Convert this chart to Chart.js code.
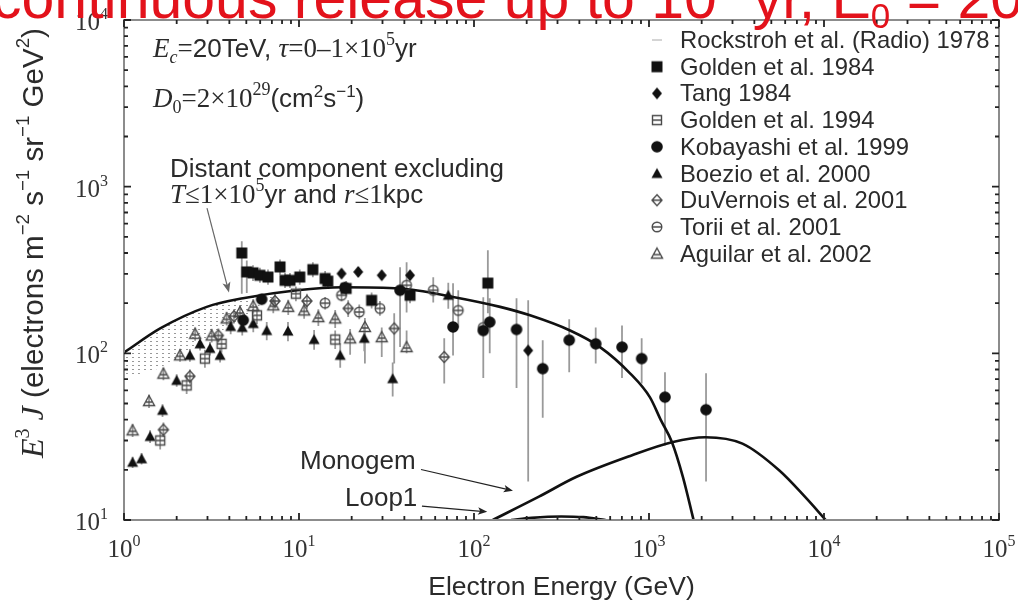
<!DOCTYPE html>
<html>
<head>
<meta charset="utf-8">
<script src="https://cdn.jsdelivr.net/npm/chart.js@4.4.1/dist/chart.umd.min.js"></script>
<style>
  html, body { margin: 0; padding: 0; background: #fff; overflow: hidden; }
  canvas { display: block; }
</style>
</head>
<body>
<canvas id="c" width="1018" height="601"></canvas>
<script>
// ---- Measured electron spectra: energy (GeV), E^3 J, error bar bounds ----
const golden84E  = [4.71, 5.03, 5.46, 5.98, 6.65, 7.79, 8.32, 8.88, 10.1, 12.0, 14.1, 14.6, 18.6, 26.0, 43.1, 120];
const golden84F  = [400, 308, 304, 294, 287, 330, 274, 274, 287, 318, 281, 271, 245, 208, 223, 264];
const golden84Lo = [228, 230, 272, 265, 258, 296, 247, 247, 258, 286, 252, 243, 220, 186, 200, 174];
const golden84Hi = [470, 360, 338, 326, 318, 366, 303, 303, 318, 352, 312, 300, 272, 232, 248, 416];

const tang84E  = [17.5, 21.8, 29.7, 43.1, 204];
const tang84F  = [301, 308, 294, 294, 104];
const tang84Lo = [282, 289, 276, 276, 17];
const tang84Hi = [322, 329, 314, 314, 208];

const golden94E  = [1.61, 2.28, 2.90, 3.61, 5.75, 9.6, 16.1];
const golden94F  = [30.0, 64.2, 93, 114, 169, 228, 121];
const golden94Lo = [26.5, 57, 82, 101, 150, 205, 106];
const golden94Hi = [34, 72, 105, 128, 190, 252, 137];

const kobayashiE  = [4.8, 6.12, 18.3, 37.8, 75.9, 113, 123, 175, 247, 350, 496, 701, 908, 1234, 2118];
const kobayashiF  = [158, 211, 248, 239, 144, 137, 154, 139, 80.9, 120, 114, 109, 93, 54.6, 45.9];
const kobayashiLo = [146, 196, 230, 109, 97, 72, 100, 62, 41, 77, 87, 71, 66, 28, 17];
const kobayashiHi = [171, 228, 268, 328, 263, 214, 214, 214, 120, 160, 143, 147, 123, 77, 76];

const boezioE  = [1.12, 1.26, 1.41, 1.66, 2.0, 2.38, 2.72, 3.10, 3.54, 4.07, 4.74, 5.48, 6.54, 8.65, 12.2, 17.2, 23.6, 34.3, 71.3];
const boezioF  = [22.2, 23.3, 31.7, 45.5, 68.8, 97.3, 114, 107, 97.3, 145, 143, 151, 137, 136, 121, 97.3, 123, 70.5, 223];
const boezioLo = [20.5, 21.5, 29, 41.5, 63, 89, 104, 97, 88, 130, 128, 134, 120, 118, 105, 82, 103, 55, 185];
const boezioHi = [24, 25.2, 34.5, 49.5, 75, 106, 124, 117, 107, 160, 158, 168, 154, 154, 138, 115, 146, 88, 265];

const duvernoisE  = [1.68, 2.38, 3.46, 4.25, 7.29, 11.1, 19.1, 35.0, 67.6];
const duvernoisF  = [34.8, 72.8, 128, 167, 206, 206, 186, 141, 95];
const duvernoisLo = [31.5, 66, 116, 151, 186, 185, 165, 87, 66];
const duvernoisHi = [38.5, 80, 141, 184, 228, 228, 208, 174, 123];

const toriiE  = [14.1, 17.5, 22.1, 29.0, 41.2, 58.5, 81.3, 113];
const toriiF  = [200, 223, 177, 186, 256, 239, 181, 143];
const toriiLo = [183, 205, 160, 168, 176, 202, 143, 71];
const toriiHi = [218, 243, 196, 206, 352, 286, 239, 217];

const aguilarE  = [1.12, 1.39, 1.68, 2.09, 2.55, 3.17, 3.86, 4.6, 5.48, 7.13, 8.68, 10.7, 12.9, 16.1, 19.6, 23.8, 29.7, 41.2];
const aguilarF  = [34.5, 51.7, 75.5, 97.3, 131, 128, 162, 177, 192, 194, 190, 181, 165, 162, 123, 144, 125, 109];
const aguilarLo = [31.5, 47, 69, 89, 119, 116, 147, 160, 173, 174, 170, 161, 146, 142, 98, 87, 95, 100];
const aguilarHi = [37.5, 56.5, 82, 106, 143, 140, 177, 194, 211, 214, 210, 201, 184, 182, 140, 163, 143, 137];

// Radio-derived band (Rockstroh 1978), upper and lower edge
const radioE  = [1, 1.28, 1.61, 2.01, 2.48, 3.1, 3.88, 4.79, 6.0, 7.6];
const radioHi = [101, 120, 141, 160, 177, 193, 205, 214, 222, 229];
const radioLo = [72, 76, 82, 95, 109, 125, 143, 164, 195, 226];

// Model curves
const distantE = [1, 1.61, 2.97, 4.79, 9.74, 17.8, 37.8, 75.9, 141, 209, 354, 525, 779, 1013, 1171, 1353, 1563, 1798];
const distantF = [101, 141, 190, 214, 239, 249, 245, 218, 190, 169, 137, 109, 75.9, 54.4, 39.6, 29.3, 18.1, 10.0];
const monogemE = [128, 235, 383, 794, 1353, 2103, 3420, 5560, 7820, 10230];
const monogemF = [10, 13.8, 18.1, 24.4, 29.3, 31.4, 28.7, 19.8, 13.7, 10];
const loop1E = [163, 213, 315, 422, 565];
const loop1F = [10, 10.3, 10.5, 10.4, 10];

// Axis decades
const xDecades = [0, 1, 2, 3, 4, 5];
const yDecades = [1, 2, 3, 4];

const legendNames = [
  'Rockstroh et al. (Radio) 1978', 'Golden et al. 1984', 'Tang 1984', 'Golden et al. 1994',
  'Kobayashi et al. 1999', 'Boezio et al. 2000', 'DuVernois et al. 2001', 'Torii et al. 2001', 'Aguilar et al. 2002'
];

const SANS = '"Liberation Sans", Arial, Helvetica, sans-serif';
const SERIF = '"Liberation Serif", "Times New Roman", serif';
const INK = '#2b2b2b';

// ---- Marker sprites ----
function marker(kind) {
  const c = document.createElement('canvas');
  c.width = 16; c.height = 16;
  const g = c.getContext('2d');
  const m = 8;
  g.fillStyle = '#111';
  g.strokeStyle = '#4a4a4a';
  g.lineWidth = 1.4;
  g.beginPath();
  switch (kind) {
    case 'square':
      g.rect(m - 5.5, m - 5.5, 11, 11); g.fill(); break;
    case 'diamond':
      g.moveTo(m, m - 6); g.lineTo(m + 5, m); g.lineTo(m, m + 6); g.lineTo(m - 5, m); g.closePath(); g.fill(); break;
    case 'circle':
      g.arc(m, m, 5.8, 0, Math.PI * 2); g.fill(); break;
    case 'triangle':
      g.moveTo(m, m - 5.5); g.lineTo(m + 5.5, m + 4.5); g.lineTo(m - 5.5, m + 4.5); g.closePath(); g.fill(); break;
    case 'squareOpen':
      g.rect(m - 4.5, m - 4.5, 9, 9); g.moveTo(m - 4.5, m); g.lineTo(m + 4.5, m); g.stroke(); break;
    case 'diamondOpen':
      g.moveTo(m, m - 5.5); g.lineTo(m + 5, m); g.lineTo(m, m + 5.5); g.lineTo(m - 5, m); g.closePath();
      g.moveTo(m - 5, m); g.lineTo(m + 5, m); g.stroke(); break;
    case 'circleOpen':
      g.arc(m, m, 4.8, 0, Math.PI * 2); g.moveTo(m - 4.8, m); g.lineTo(m + 4.8, m); g.stroke(); break;
    case 'triangleOpen':
      g.moveTo(m, m - 5.5); g.lineTo(m + 5.5, m + 4.5); g.lineTo(m - 5.5, m + 4.5); g.closePath();
      g.moveTo(m - 3, m + 1); g.lineTo(m + 3, m + 1); g.stroke(); break;
    case 'dash':
      g.strokeStyle = '#aaa'; g.lineWidth = 1; g.moveTo(m - 5, m); g.lineTo(m + 5, m); g.stroke(); break;
  }
  return c;
}

// Dotted fill for the radio band
function dotPattern() {
  const c = document.createElement('canvas');
  c.width = 6; c.height = 4;
  const g = c.getContext('2d');
  g.fillStyle = 'rgba(110,110,110,0.7)';
  g.fillRect(0, 1, 2, 1);
  const ctx = document.getElementById('c').getContext('2d');
  return ctx.createPattern(c, 'repeat');
}

const pts = (E, F) => E.map((e, i) => ({ x: e, y: F[i] }));

const measured = [
  { label: legendNames[1], E: golden84E, F: golden84F, lo: golden84Lo, hi: golden84Hi, kind: 'square' },
  { label: legendNames[2], E: tang84E, F: tang84F, lo: tang84Lo, hi: tang84Hi, kind: 'diamond' },
  { label: legendNames[3], E: golden94E, F: golden94F, lo: golden94Lo, hi: golden94Hi, kind: 'squareOpen' },
  { label: legendNames[4], E: kobayashiE, F: kobayashiF, lo: kobayashiLo, hi: kobayashiHi, kind: 'circle' },
  { label: legendNames[5], E: boezioE, F: boezioF, lo: boezioLo, hi: boezioHi, kind: 'triangle' },
  { label: legendNames[6], E: duvernoisE, F: duvernoisF, lo: duvernoisLo, hi: duvernoisHi, kind: 'diamondOpen' },
  { label: legendNames[7], E: toriiE, F: toriiF, lo: toriiLo, hi: toriiHi, kind: 'circleOpen' },
  { label: legendNames[8], E: aguilarE, F: aguilarF, lo: aguilarLo, hi: aguilarHi, kind: 'triangleOpen' }
];
const legendKinds = ['dash'].concat(measured.map(s => s.kind));

const curveStyle = { showLine: true, pointRadius: 0, borderColor: '#111', borderWidth: 2.6, cubicInterpolationMode: 'monotone', fill: false, order: 5 };

const datasets = [
  { label: 'radio-hi', data: pts(radioE, radioHi), showLine: true, pointRadius: 0, borderWidth: 0, borderColor: 'rgba(0,0,0,0)', cubicInterpolationMode: 'monotone', fill: false, order: 10 },
  { label: 'radio-lo', data: pts(radioE, radioLo), showLine: true, pointRadius: 0, borderWidth: 0, borderColor: 'rgba(0,0,0,0)', cubicInterpolationMode: 'monotone', fill: '-1', backgroundColor: dotPattern(), order: 10 },
  Object.assign({ label: 'distant', data: pts(distantE, distantF) }, curveStyle),
  Object.assign({ label: 'Monogem', data: pts(monogemE, monogemF) }, curveStyle),
  Object.assign({ label: 'Loop1', data: pts(loop1E, loop1F) }, curveStyle)
].concat(measured.map(s => ({
  label: s.label,
  data: pts(s.E, s.F),
  showLine: false,
  pointStyle: marker(s.kind),
  errLo: s.lo,
  errHi: s.hi,
  order: 0
})));

// Draw mixed-font text runs: [text, font, dy]
function rich(ctx, x, y, runs, measureOnly) {
  let cx = x;
  for (const [t, font, dy] of runs) {
    ctx.font = font;
    if (!measureOnly) ctx.fillText(t, cx, y + (dy || 0));
    cx += ctx.measureText(t).width;
  }
  return cx - x;
}

function arrow(ctx, x0, y0, x1, y1, head, color, width) {
  ctx.save();
  ctx.strokeStyle = color; ctx.fillStyle = color; ctx.lineWidth = width;
  const a = Math.atan2(y1 - y0, x1 - x0);
  ctx.beginPath(); ctx.moveTo(x0, y0); ctx.lineTo(x1 - Math.cos(a) * head * 0.6, y1 - Math.sin(a) * head * 0.6); ctx.stroke();
  ctx.beginPath();
  ctx.moveTo(x1, y1);
  ctx.lineTo(x1 - head * Math.cos(a - 0.38), y1 - head * Math.sin(a - 0.38));
  ctx.lineTo(x1 - head * 0.7 * Math.cos(a), y1 - head * 0.7 * Math.sin(a));
  ctx.lineTo(x1 - head * Math.cos(a + 0.38), y1 - head * Math.sin(a + 0.38));
  ctx.closePath(); ctx.fill();
  ctx.restore();
}

const errorBars = {
  id: 'errorBars',
  beforeDatasetsDraw(chart) {
    const { ctx, chartArea: a, scales: { x, y } } = chart;
    ctx.save();
    ctx.beginPath(); ctx.rect(a.left, a.top, a.right - a.left, a.bottom - a.top); ctx.clip();
    ctx.strokeStyle = '#9a9a9a'; ctx.lineWidth = 1.8;
    ctx.beginPath();
    chart.data.datasets.forEach(ds => {
      if (!ds.errLo) return;
      ds.data.forEach((p, i) => {
        const px = x.getPixelForValue(p.x);
        ctx.moveTo(px, y.getPixelForValue(ds.errLo[i]));
        ctx.lineTo(px, y.getPixelForValue(ds.errHi[i]));
      });
    });
    ctx.stroke();
    ctx.restore();
  }
};

const frameAndText = {
  id: 'frameAndText',
  afterDraw(chart) {
    const { ctx, chartArea: a, scales: { x, y } } = chart;
    ctx.save();

    // frame
    ctx.strokeStyle = '#8c8c8c'; ctx.lineWidth = 2;
    ctx.strokeRect(a.left, a.top, a.right - a.left, a.bottom - a.top);

    // inward ticks
    ctx.strokeStyle = '#222'; ctx.lineWidth = 1.8;
    ctx.beginPath();
    for (let d = 0; d <= 5; d++) {
      for (let m = 1; m <= 9; m++) {
        const v = m * Math.pow(10, d);
        if (v > 1e5) break;
        const px = x.getPixelForValue(v), len = m === 1 ? 7 : 4;
        ctx.moveTo(px, a.bottom); ctx.lineTo(px, a.bottom - len);
        ctx.moveTo(px, a.top); ctx.lineTo(px, a.top + len);
      }
    }
    for (let d = 1; d <= 4; d++) {
      for (let m = 1; m <= 9; m++) {
        const v = m * Math.pow(10, d);
        if (v > 1e4) break;
        const py = y.getPixelForValue(v), len = m === 1 ? 7 : 4;
        ctx.moveTo(a.left, py); ctx.lineTo(a.left + len, py);
        ctx.moveTo(a.right, py); ctx.lineTo(a.right - len, py);
      }
    }
    ctx.stroke();

    // tick labels
    ctx.fillStyle = '#333';
    ctx.textBaseline = 'alphabetic'; ctx.textAlign = 'left';
    xDecades.forEach(d => {
      const runs = [['10', `25px ${SERIF}`], [String(d), `16px ${SERIF}`, -11]];
      const w = rich(ctx, 0, 0, runs, true);
      rich(ctx, x.getPixelForValue(Math.pow(10, d)) - w / 2, a.bottom + 37, runs);
    });
    yDecades.forEach(d => {
      const runs = [['10', `25px ${SERIF}`], [String(d), `16px ${SERIF}`, -11]];
      const w = rich(ctx, 0, 0, runs, true);
      rich(ctx, 108 - w, y.getPixelForValue(Math.pow(10, d)) + 10, runs);
    });

    // axis titles
    ctx.fillStyle = INK;
    ctx.font = `26.5px ${SANS}`;
    ctx.textAlign = 'center';
    ctx.fillText('Electron Energy (GeV)', (a.left + a.right) / 2, 595);
    ctx.textAlign = 'left';

    const yRuns = S => [
      ['E', `italic ${S}px ${SERIF}`], ['3', `${0.62 * S}px ${SERIF}`, -0.42 * S], [' J', `italic ${S}px ${SERIF}`],
      [' (electrons m', `${0.92 * S}px ${SANS}`], ['\u22122', `${0.58 * S}px ${SANS}`, -0.42 * S],
      [' s', `${0.92 * S}px ${SANS}`], ['\u22121', `${0.58 * S}px ${SANS}`, -0.42 * S],
      [' sr', `${0.92 * S}px ${SANS}`], ['\u22121', `${0.58 * S}px ${SANS}`, -0.42 * S],
      [' GeV', `${0.92 * S}px ${SANS}`], ['2', `${0.58 * S}px ${SANS}`, -0.42 * S], [')', `${0.92 * S}px ${SANS}`]
    ];
    const w0 = rich(ctx, 0, 0, yRuns(24), true);
    const S = 24 * 430 / w0;
    ctx.save();
    ctx.translate(43, 458);
    ctx.rotate(-Math.PI / 2);
    rich(ctx, 0, 0, yRuns(S));
    ctx.restore();

    // model parameters
    rich(ctx, 153, 57, [
      ['E', `italic 27px ${SERIF}`], ['c', `italic 18px ${SERIF}`, 6], ['=', `27px ${SERIF}`],
      ['20TeV, ', `26px ${SANS}`], ['\u03c4', `italic 27px ${SERIF}`], ['=0\u20131\u00d710', `27px ${SERIF}`],
      ['5', `18px ${SERIF}`, -12], ['yr', `26px ${SANS}`]
    ]);
    rich(ctx, 153, 107, [
      ['D', `italic 27px ${SERIF}`], ['0', `18px ${SERIF}`, 6], ['=2\u00d710', `27px ${SERIF}`],
      ['29', `18px ${SERIF}`, -12], ['(cm', `26px ${SANS}`], ['2', `17px ${SANS}`, -10],
      ['s', `26px ${SANS}`], ['\u22121', `17px ${SANS}`, -10], [')', `26px ${SANS}`]
    ]);

    // component labels
    ctx.font = `26px ${SANS}`;
    ctx.fillText('Distant component excluding', 170, 177);
    rich(ctx, 170, 203, [
      ['T', `italic 27px ${SERIF}`], ['\u22641\u00d710', `27px ${SERIF}`], ['5', `18px ${SERIF}`, -12],
      ['yr and ', `26px ${SANS}`], ['r', `italic 27px ${SERIF}`], ['\u22641', `27px ${SERIF}`], ['kpc', `26px ${SANS}`]
    ]);
    ctx.font = `26px ${SANS}`;
    ctx.fillText('Monogem', 300, 469);
    ctx.fillText('Loop1', 345, 506);

    const P = (e, f) => [x.getPixelForValue(e), y.getPixelForValue(f)];
    let s0 = P(2.98, 743), s1 = P(3.98, 232);
    arrow(ctx, s0[0], s0[1], s1[0], s1[1], 11, '#666', 1.2);
    s0 = P(49.8, 20.1); s1 = P(167, 15.0);
    arrow(ctx, s0[0], s0[1], s1[0], s1[1], 10, '#222', 1.2);
    s0 = P(50.4, 12.1); s1 = P(119, 11.2);
    arrow(ctx, s0[0], s0[1], s1[0], s1[1], 10, '#222', 1.2);

    // legend
    legendNames.forEach((name, i) => {
      const cy = 40 + i * 26.7;
      const img = marker(legendKinds[i]);
      ctx.drawImage(img, 657 - img.width / 2, cy - img.height / 2);
      ctx.fillStyle = INK;
      ctx.font = `23.8px ${SANS}`;
      ctx.fillText(name, 680, cy + 8);
    });

    // headline, running off the top of the page
    ctx.fillStyle = '#e3121b';
    rich(ctx, -8, 18, [
      ['continuous release up to 10', `59px ${SANS}`], ['5', `35px ${SANS}`, -24],
      [' yr, E', `59px ${SANS}`], ['0', `35px ${SANS}`, 10], [' = 20 TeV', `59px ${SANS}`]
    ]);

    ctx.restore();
  }
};

new Chart(document.getElementById('c'), {
  type: 'line',
  data: { datasets },
  options: {
    responsive: false,
    animation: false,
    events: [],
    layout: { padding: { top: 20, right: 19, left: 0, bottom: 0 } },
    plugins: { legend: { display: false }, tooltip: { enabled: false }, title: { display: false } },
    scales: {
      x: {
        type: 'logarithmic', min: 1, max: 1e5,
        ticks: { display: false }, grid: { display: false }, border: { display: false },
        afterFit(s) { s.height = 81; }
      },
      y: {
        type: 'logarithmic', min: 10, max: 1e4,
        ticks: { display: false }, grid: { display: false }, border: { display: false },
        afterFit(s) { s.width = 124; }
      }
    }
  },
  plugins: [errorBars, frameAndText]
});
</script>
</body>
</html>
